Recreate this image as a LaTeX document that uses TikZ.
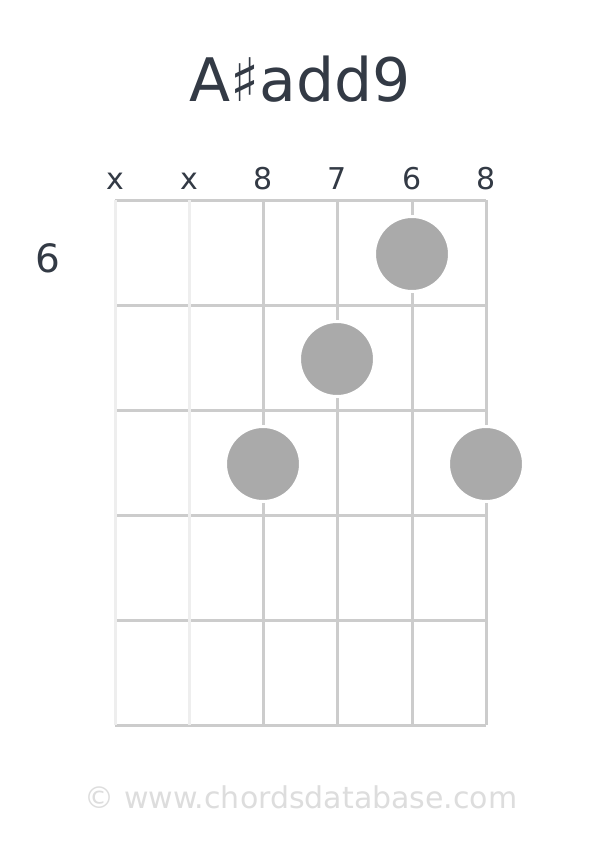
\documentclass[tikz,border=0pt]{standalone}
\usepackage{fontspec}
\setmainfont{DejaVu Sans}
\definecolor{txt}{HTML}{333A45}
\definecolor{fretc}{HTML}{CCCCCC}
\definecolor{mutec}{HTML}{EEEEEE}
\definecolor{dotc}{HTML}{AAAAAA}
\definecolor{footc}{HTML}{DDDDDD}
\tikzset{
  fretline/.style={draw=fretc, line width=3pt},
  stringline/.style={draw=fretc, line width=3pt},
  muteline/.style={draw=mutec, line width=3pt},
  fingerdot/.style={circle, fill=dotc, draw=white, line width=3pt, minimum size=75pt, inner sep=0pt},
  toplabel/.style={text=txt, font=\fontsize{30}{30}\selectfont, anchor=base},
}
\begin{document}
\begin{tikzpicture}[x=1pt,y=-1pt]
\useasboundingbox (0,0) rectangle (600,848);
\fill[white] (0,0) rectangle (600,848);
\node[text=txt, font=\fontsize{60}{60}\selectfont, anchor=base] (title) at (300,102) {A♯add9};
% frets
\foreach \i/\y in {0/200,1/305,2/410,3/515,4/620,5/725} {
  \coordinate (fl\i) at (115,\y);
  \coordinate (fr\i) at (486,\y);
  \draw[fretline] (fl\i) -- (fr\i);
}
% strings
\foreach \i/\x in {1/115,2/189,3/263,4/337,5/412,6/486} {
  \coordinate (st\i) at (\x,200);
  \coordinate (sb\i) at (\x,725);
}
\draw[muteline] (st1) -- (sb1);
\draw[muteline] (st2) -- (sb2);
\foreach \i in {3,4,5,6} { \draw[stringline] (st\i) -- (sb\i); }
% labels above
\node[toplabel] (l1) at (115,189) {x};
\node[toplabel] (l2) at (189,189) {x};
\node[toplabel] (l3) at (263,189) {8};
\node[toplabel] (l4) at (337,189) {7};
\node[toplabel] (l5) at (412,189) {6};
\node[toplabel] (l6) at (486,189) {8};
\node[text=txt, font=\fontsize{39}{39}\selectfont, anchor=base] (fretnum) at (48,272) {6};
% dots
\node[fingerdot] (d5) at (412,254) {};
\node[fingerdot] (d4) at (337,359) {};
\node[fingerdot] (d3) at (263,464) {};
\node[fingerdot] (d6) at (486,464) {};
\node[text=footc, font=\fontsize{30}{30}\selectfont, anchor=base] (foot) at (301,808) {© www.chordsdatabase.com};
\end{tikzpicture}
\end{document}
